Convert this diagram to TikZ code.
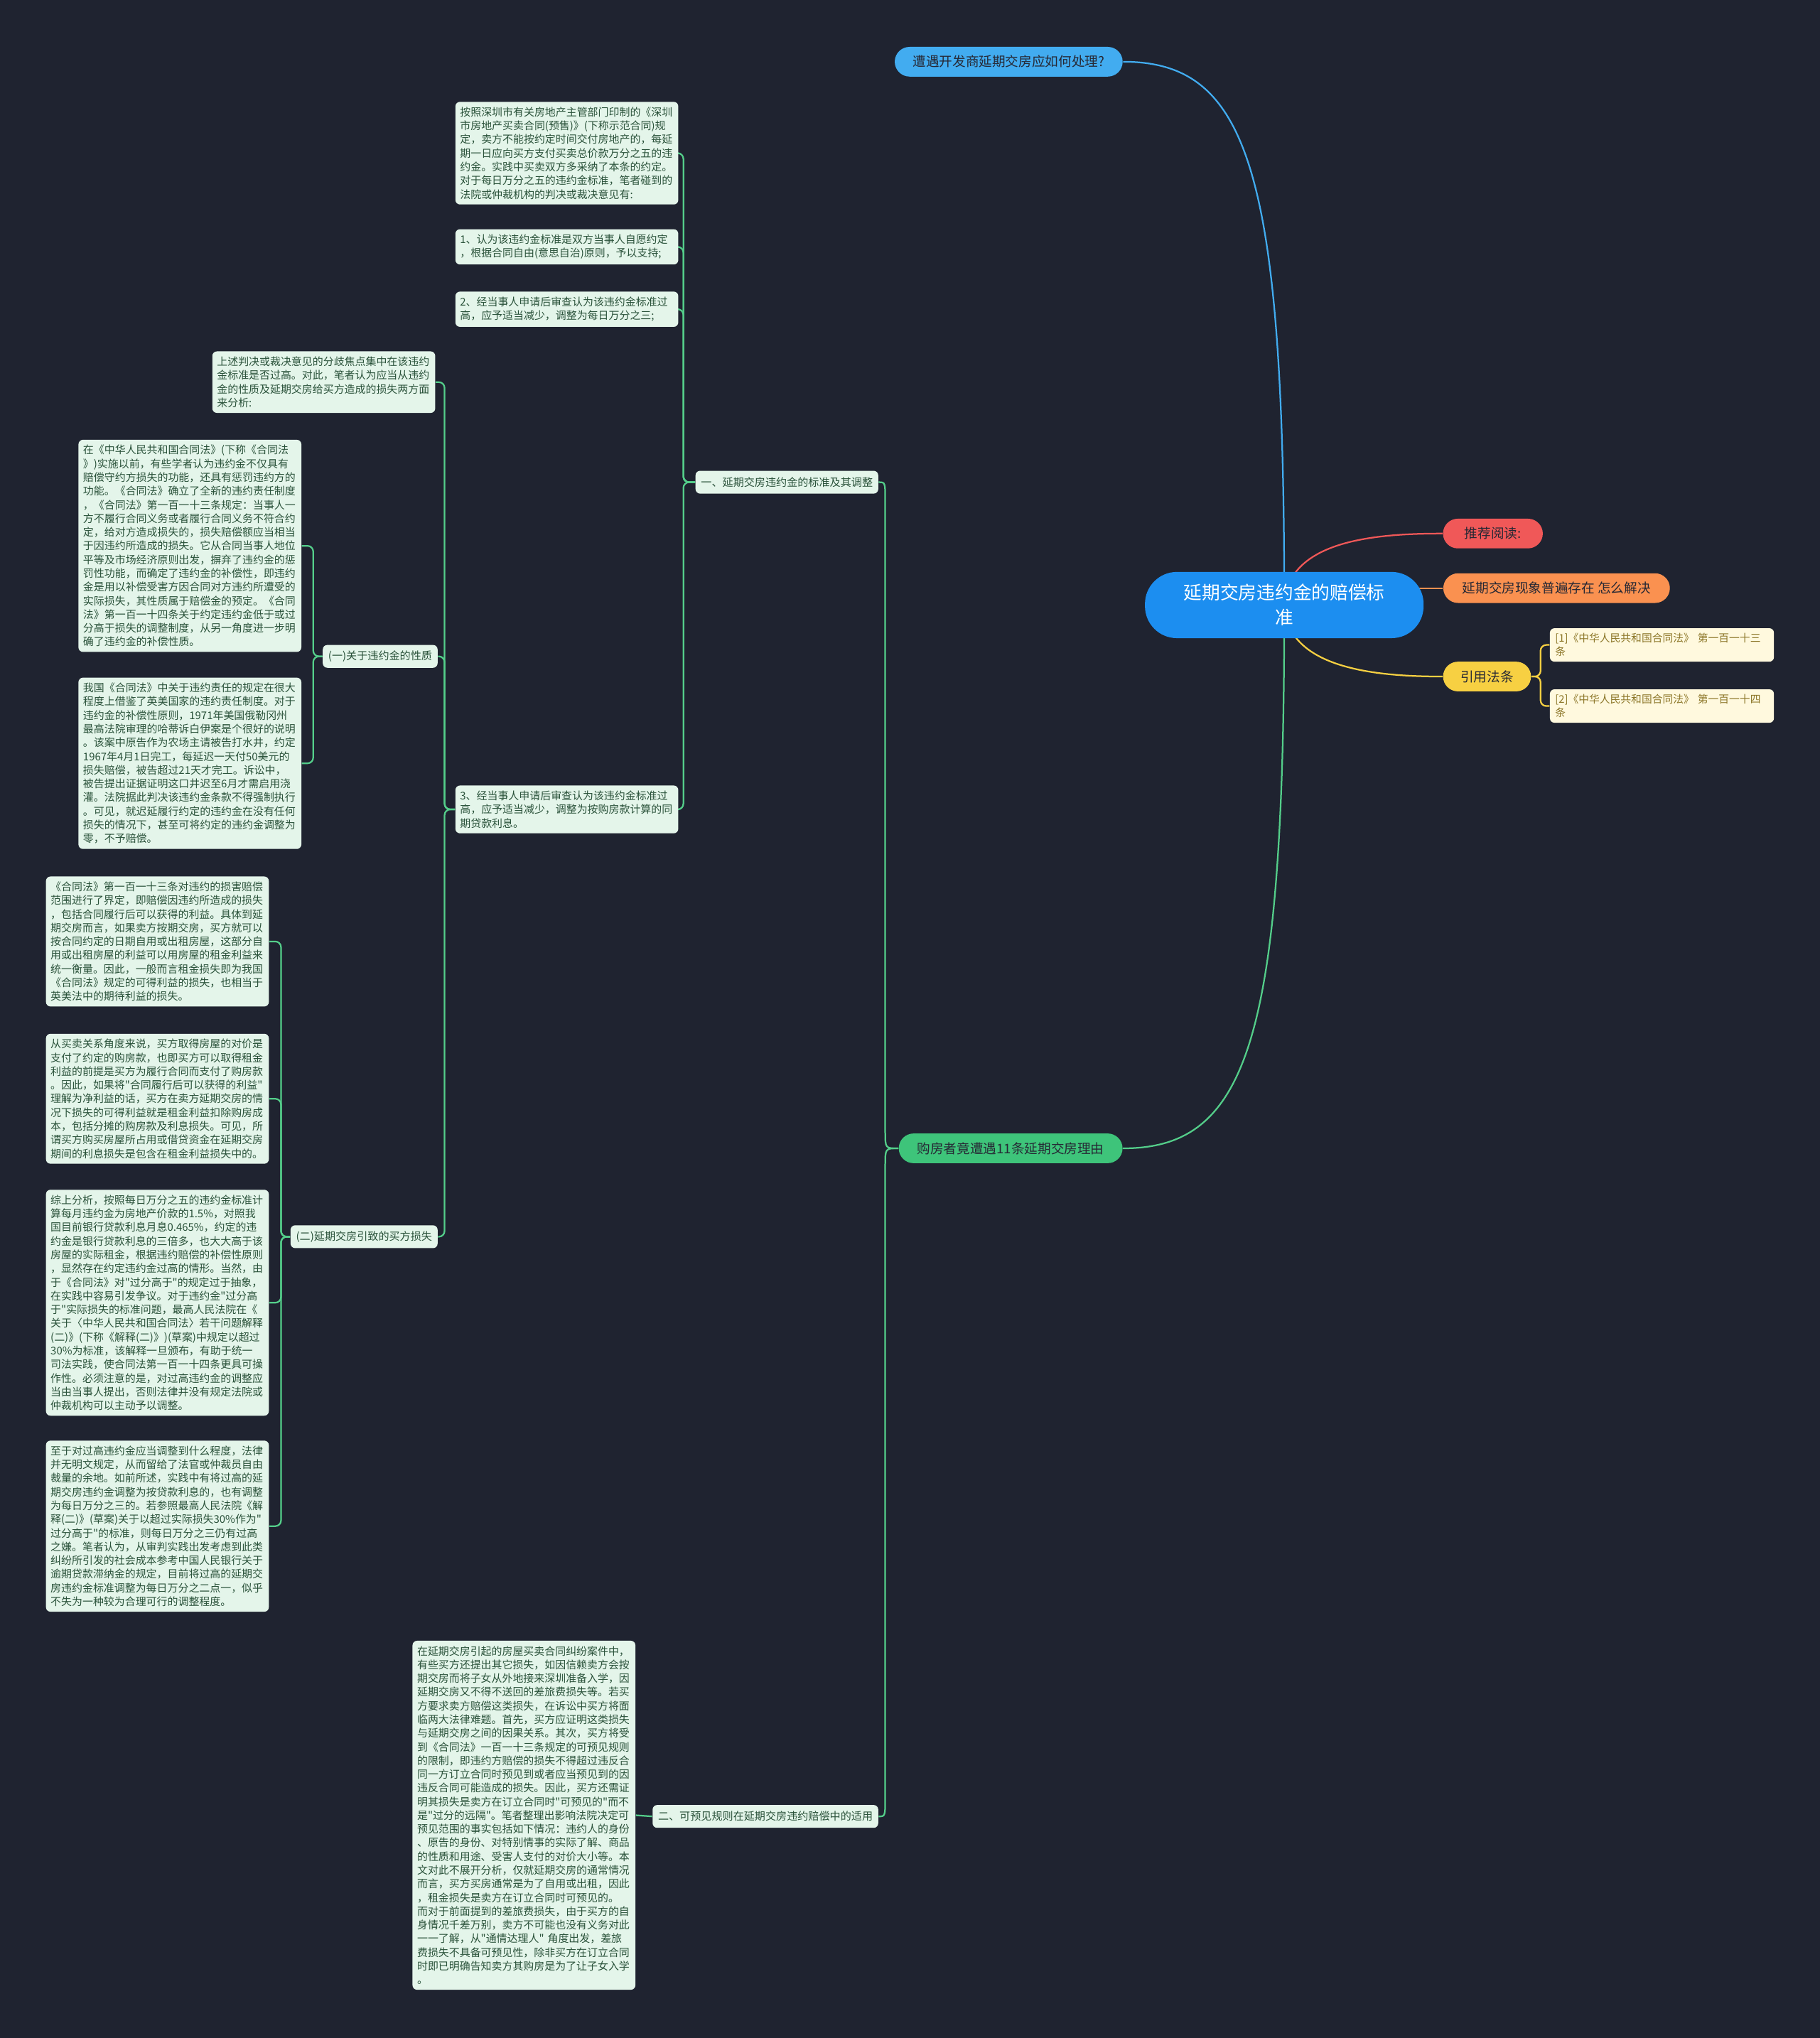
\documentclass[tikz,border=0pt]{standalone}
\usepackage{fontspec}
\newfontfamily\cjk{Noto Sans CJK SC}
\definecolor{mmnight}{RGB}{31,35,48}
\definecolor{mmroot}{RGB}{28,142,240}
\definecolor{mmsky}{RGB}{66,172,240}
\definecolor{mmred}{RGB}{240,88,88}
\definecolor{mmorange}{RGB}{250,145,80}
\definecolor{mmyellow}{RGB}{247,208,66}
\definecolor{mmgreen}{RGB}{62,196,122}
\definecolor{mmmint}{RGB}{228,245,234}
\definecolor{mmtext}{RGB}{42,82,58}
\definecolor{mmcream}{RGB}{255,249,222}
\definecolor{mmolive}{RGB}{140,118,40}
\definecolor{mmink}{RGB}{38,40,52}
\definecolor{mmline}{RGB}{84,206,138}
\pgfdeclarelayer{canvas}
\pgfdeclarelayer{wires}
\pgfsetlayers{canvas,wires,main}

\begin{document}
\begin{tikzpicture}[x=0.02cm, y=-0.02cm]
    % Styles
    \tikzset{root/.style={rectangle, rounded corners=14pt, fill=mmroot, text=white,
      font=\cjk\fontsize{8}{10.8}\selectfont, align=center, minimum width=122pt,
      minimum height=29pt, inner sep=0pt}}
    \tikzset{pill/.style={rectangle, rounded corners=6.5pt, minimum height=13pt,
      inner sep=0pt, text=mmink, font=\cjk\fontsize{5.8}{7}\selectfont}}
    \tikzset{leaf/.style={rectangle, rounded corners=2pt, fill=mmmint, text=mmtext,
      font=\cjk\fontsize{4.65}{6.0}\selectfont, align=left, text width=93.5pt,
      inner xsep=2.05pt, inner ysep=2.3pt, anchor=north west}}
    \tikzset{sub/.style={rectangle, rounded corners=2pt, fill=mmmint, text=mmtext,
      font=\cjk\fontsize{4.7}{6}\selectfont, minimum height=10pt,
      inner xsep=2.4pt, inner ysep=0pt, anchor=east}}
    \tikzset{cite/.style={rectangle, rounded corners=2pt, fill=mmcream, text=mmolive,
      font=\cjk\fontsize{4.6}{6.0}\selectfont, align=left, text width=93.5pt,
      inner xsep=2.3pt, inner ysep=2.2pt, anchor=north west}}
    \tikzset{wire/.style={line width=0.7pt, rounded corners=2.5pt}}

    % Background
    \begin{pgfonlayer}{canvas}
      \fill[mmnight] (0,0) rectangle (1400,1568);
    \end{pgfonlayer}

    % Centre and right side
    \node[root] (root) at (988,465.5) {延期交房违约金的赔偿标\\准};
    \node[pill, fill=mmsky, minimum width=99.8pt] (ask) at (776,47.5) {遭遇开发商延期交房应如何处理?};
    \node[pill, fill=mmred, minimum width=43.7pt] (read) at (1148.5,410.5) {推荐阅读:};
    \node[pill, fill=mmorange, minimum width=99.2pt] (common) at (1197.5,452.5) {延期交房现象普遍存在 怎么解决};
    \node[pill, fill=mmyellow, minimum width=38.5pt] (law) at (1144,520.5) {引用法条};
    \node[pill, fill=mmgreen, minimum width=98pt] (buyer) at (777.5,883.5) {购房者竟遭遇11条延期交房理由};
    \node[cite] (law1) at (1192,483) {[1]《中华人民共和国合同法》 第一百一十三\\条};
    \node[cite] (law2) at (1192,530) {[2]《中华人民共和国合同法》 第一百一十四\\条};

    % Branch one
    \node[sub] (std) at (676,371) {一、延期交房违约金的标准及其调整};
    \node[leaf] (rule) at (350,78) {按照深圳市有关房地产主管部门印制的《深圳\\
      市房地产买卖合同(预售)》(下称示范合同)规\\
      定，卖方不能按约定时间交付房地产的，每延\\
      期一日应向买方支付买卖总价款万分之五的违\\
      约金。实践中买卖双方多采纳了本条的约定。\\
      对于每日万分之五的违约金标准，笔者碰到的\\
      法院或仲裁机构的判决或裁决意见有:};
    \node[leaf] (view1) at (350,176) {1、认为该违约金标准是双方当事人自愿约定\\
      ，根据合同自由(意思自治)原则，予以支持;};
    \node[leaf] (view2) at (350,224) {2、经当事人申请后审查认为该违约金标准过\\
      高，应予适当减少，调整为每日万分之三;};
    \node[leaf] (view3) at (350,604) {3、经当事人申请后审查认为该违约金标准过\\
      高，应予适当减少，调整为按购房款计算的同\\
      期贷款利息。};
    \node[leaf] (focus) at (163,270) {上述判决或裁决意见的分歧焦点集中在该违约\\
      金标准是否过高。对此，笔者认为应当从违约\\
      金的性质及延期交房给买方造成的损失两方面\\
      来分析:};
    \node[sub] (nature) at (337,505) {(一)关于违约金的性质};
    \node[sub] (loss) at (337,951.5) {(二)延期交房引致的买方损失};

    \node[leaf] (natA) at (60,338) {在《中华人民共和国合同法》(下称《合同法\\
      》)实施以前，有些学者认为违约金不仅具有\\
      赔偿守约方损失的功能，还具有惩罚违约方的\\
      功能。《合同法》确立了全新的违约责任制度\\
      ，《合同法》第一百一十三条规定：当事人一\\
      方不履行合同义务或者履行合同义务不符合约\\
      定，给对方造成损失的，损失赔偿额应当相当\\
      于因违约所造成的损失。它从合同当事人地位\\
      平等及市场经济原则出发，摒弃了违约金的惩\\
      罚性功能，而确定了违约金的补偿性，即违约\\
      金是用以补偿受害方因合同对方违约所遭受的\\
      实际损失，其性质属于赔偿金的预定。《合同\\
      法》第一百一十四条关于约定违约金低于或过\\
      分高于损失的调整制度，从另一角度进一步明\\
      确了违约金的补偿性质。};
    \node[leaf] (natB) at (60,521) {我国《合同法》中关于违约责任的规定在很大\\
      程度上借鉴了英美国家的违约责任制度。对于\\
      违约金的补偿性原则，1971年美国俄勒冈州\\
      最高法院审理的哈蒂诉白伊案是个很好的说明\\
      。该案中原告作为农场主请被告打水井，约定\\
      1967年4月1日完工，每延迟一天付50美元的\\
      损失赔偿，被告超过21天才完工。诉讼中，\\
      被告提出证据证明这口井迟至6月才需启用浇\\
      灌。法院据此判决该违约金条款不得强制执行\\
      。可见，就迟延履行约定的违约金在没有任何\\
      损失的情况下，甚至可将约定的违约金调整为\\
      零，不予赔偿。};

    \node[leaf] (lossA) at (35,674) {《合同法》第一百一十三条对违约的损害赔偿\\
      范围进行了界定，即赔偿因违约所造成的损失\\
      ，包括合同履行后可以获得的利益。具体到延\\
      期交房而言，如果卖方按期交房，买方就可以\\
      按合同约定的日期自用或出租房屋，这部分自\\
      用或出租房屋的利益可以用房屋的租金利益来\\
      统一衡量。因此，一般而言租金损失即为我国\\
      《合同法》规定的可得利益的损失，也相当于\\
      英美法中的期待利益的损失。};
    \node[leaf] (lossB) at (35,795) {从买卖关系角度来说，买方取得房屋的对价是\\
      支付了约定的购房款，也即买方可以取得租金\\
      利益的前提是买方为履行合同而支付了购房款\\
      。因此，如果将"合同履行后可以获得的利益"\\
      理解为净利益的话，买方在卖方延期交房的情\\
      况下损失的可得利益就是租金利益扣除购房成\\
      本，包括分摊的购房款及利息损失。可见，所\\
      谓买方购买房屋所占用或借贷资金在延期交房\\
      期间的利息损失是包含在租金利益损失中的。};
    \node[leaf] (lossC) at (35,915) {综上分析，按照每日万分之五的违约金标准计\\
      算每月违约金为房地产价款的1.5\%，对照我\\
      国目前银行贷款利息月息0.465\%，约定的违\\
      约金是银行贷款利息的三倍多，也大大高于该\\
      房屋的实际租金，根据违约赔偿的补偿性原则\\
      ，显然存在约定违约金过高的情形。当然，由\\
      于《合同法》对"过分高于"的规定过于抽象，\\
      在实践中容易引发争议。对于违约金"过分高\\
      于"实际损失的标准问题，最高人民法院在《\\
      关于〈中华人民共和国合同法〉若干问题解释\\
      (二)》(下称《解释(二)》)(草案)中规定以超过\\
      30\%为标准，该解释一旦颁布，有助于统一\\
      司法实践，使合同法第一百一十四条更具可操\\
      作性。必须注意的是，对过高违约金的调整应\\
      当由当事人提出，否则法律并没有规定法院或\\
      仲裁机构可以主动予以调整。};
    \node[leaf] (lossD) at (35,1108) {至于对过高违约金应当调整到什么程度，法律\\
      并无明文规定，从而留给了法官或仲裁员自由\\
      裁量的余地。如前所述，实践中有将过高的延\\
      期交房违约金调整为按贷款利息的，也有调整\\
      为每日万分之三的。若参照最高人民法院《解\\
      释(二)》(草案)关于以超过实际损失30\%作为"\\
      过分高于"的标准，则每日万分之三仍有过高\\
      之嫌。笔者认为，从审判实践出发考虑到此类\\
      纠纷所引发的社会成本参考中国人民银行关于\\
      逾期贷款滞纳金的规定，目前将过高的延期交\\
      房违约金标准调整为每日万分之二点一，似乎\\
      不失为一种较为合理可行的调整程度。};

    % Branch two
    \node[sub] (foresee) at (676,1397.5) {二、可预见规则在延期交房违约赔偿中的适用};
    \node[leaf] (travel) at (317,1262) {在延期交房引起的房屋买卖合同纠纷案件中，\\
      有些买方还提出其它损失，如因信赖卖方会按\\
      期交房而将子女从外地接来深圳准备入学，因\\
      延期交房又不得不送回的差旅费损失等。若买\\
      方要求卖方赔偿这类损失，在诉讼中买方将面\\
      临两大法律难题。首先，买方应证明这类损失\\
      与延期交房之间的因果关系。其次，买方将受\\
      到《合同法》一百一十三条规定的可预见规则\\
      的限制，即违约方赔偿的损失不得超过违反合\\
      同一方订立合同时预见到或者应当预见到的因\\
      违反合同可能造成的损失。因此，买方还需证\\
      明其损失是卖方在订立合同时"可预见的"而不\\
      是"过分的远隔"。笔者整理出影响法院决定可\\
      预见范围的事实包括如下情况：违约人的身份\\
      、原告的身份、对特别情事的实际了解、商品\\
      的性质和用途、受害人支付的对价大小等。本\\
      文对此不展开分析，仅就延期交房的通常情况\\
      而言，买方买房通常是为了自用或出租，因此\\
      ，租金损失是卖方在订立合同时可预见的。\\
      而对于前面提到的差旅费损失，由于买方的自\\
      身情况千差万别，卖方不可能也没有义务对此\\
      一一了解，从"通情达理人" 角度出发，差旅\\
      费损失不具备可预见性，除非买方在订立合同\\
      时即已明确告知卖方其购房是为了让子女入学\\
      。};

    % Connectors
    \begin{pgfonlayer}{wires}
      \draw[wire, mmsky] (root.center) .. controls (988,130) and (960,47.5) .. (ask.east);
      \draw[wire, mmline] (root.center) .. controls (988,800) and (960,883.5) .. (buyer.east);
      \draw[wire, mmred] (root.center) .. controls (990,415) and (1060,410.5) .. (read.west);
      \draw[wire, mmorange] (root.center |- common.west) -- (common.west);
      \draw[wire, mmyellow] (root.center) .. controls (990,515) and (1060,520.5) .. (law.west);
      \foreach \c in {law1, law2}{
        \draw[wire, mmyellow] (law.east) -- ++(7,0) |- (\c.west);
      }
      \draw[wire, mmline] (buyer.west) .. controls (681,883.5) .. (681,866) -- (681,390)
        .. controls (681,371) .. (std.east);
      \draw[wire, mmline] (buyer.west) .. controls (681,883.5) .. (681,901) -- (681,1378)
        .. controls (681,1397.5) .. (foresee.east);
      \foreach \v in {rule, view1, view2, view3}{
        \draw[wire, mmline] (std.west) -- ++(-9,0) |- (\v.east);
      }
      \foreach \v in {focus, nature, loss}{
        \draw[wire, mmline] (view3.west) -- ++(-8,0) |- (\v.east);
      }
      \foreach \v in {natA, natB}{
        \draw[wire, mmline] (nature.west) -- ++(-7,0) |- (\v.east);
      }
      \foreach \v in {lossA, lossB, lossC, lossD}{
        \draw[wire, mmline] (loss.west) -- ++(-7,0) |- (\v.east);
      }
      \draw[wire, mmline] (foresee.west) -- (travel.east);
    \end{pgfonlayer}
\end{tikzpicture}
\end{document}
